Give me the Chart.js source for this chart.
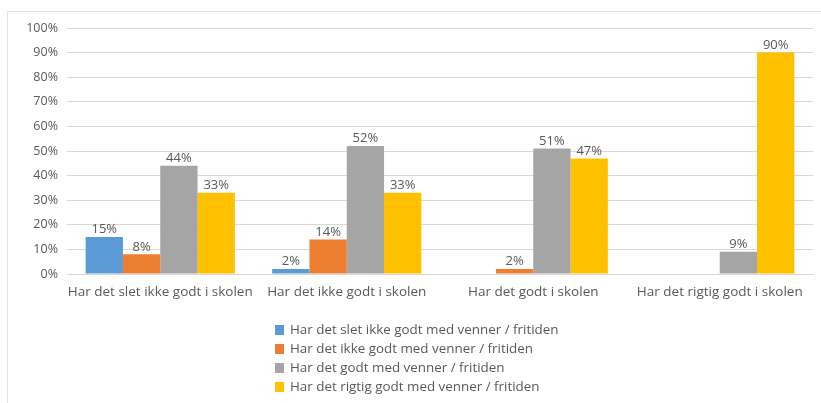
<!DOCTYPE html>
<html>
<head>
<meta charset="utf-8">
<script src="https://cdn.jsdelivr.net/npm/chart.js@4.4.0/dist/chart.umd.min.js"></script>
<style>
  html, body { margin: 0; padding: 0; background: #fff; }
  #wrap { position: relative; width: 821px; height: 403px; overflow: hidden; }
  #frame { position: absolute; left: 7px; top: 11px; width: 830px; height: 400px;
           border-left: 1px solid #e3e3e3; border-top: 1px solid #e3e3e3; }
  canvas { position: absolute; left: 0; top: 0; }
  #legend { position: absolute; left: 275px; top: 320px; font-family: "Open Sans", Lato, sans-serif;
            font-size: 13.4px; color: #595959; }
  .item { height: 19px; line-height: 19px; white-space: nowrap; }
  .box { display: inline-block; width: 9px; height: 10px; margin-right: 6px; vertical-align: -1px; }
</style>
</head>
<body>
<div id="wrap">
  <div id="frame"></div>
  <canvas id="c" width="821" height="403"></canvas>
  <div id="legend"></div>
</div>
<script>
const categories = [
  "Har det slet ikke godt i skolen",
  "Har det ikke godt i skolen",
  "Har det godt i skolen",
  "Har det rigtig godt i skolen"
];
const seriesNames = [
  "Har det slet ikke godt med venner / fritiden",
  "Har det ikke godt med venner / fritiden",
  "Har det godt med venner / fritiden",
  "Har det rigtig godt med venner / fritiden"
];
const sletIkkeGodt = [15, 2, 0, 0];
const ikkeGodt = [8, 14, 2, 0];
const godt = [44, 52, 51, 9];
const rigtigGodt = [33, 33, 47, 90];
const colors = ["#5B9BD5", "#ED7D31", "#A5A5A5", "#FFC000"];
const seriesValues = [sletIkkeGodt, ikkeGodt, godt, rigtigGodt];

const FONT = '"Open Sans", Lato, sans-serif';
const TXT = '#595959';

const valueLabels = {
  id: 'valueLabels',
  afterDatasetsDraw(chart) {
    const ctx = chart.ctx;
    ctx.save();
    ctx.font = '13px ' + FONT;
    ctx.fillStyle = TXT;
    ctx.textAlign = 'center';
    ctx.textBaseline = 'bottom';
    chart.data.datasets.forEach((ds, i) => {
      const meta = chart.getDatasetMeta(i);
      meta.data.forEach((bar, j) => {
        const v = ds.data[j];
        if (!v) return;
        ctx.fillText(v + '%', bar.x, bar.y - 1);
      });
    });
    ctx.restore();
  }
};

const chart = new Chart(document.getElementById('c'), {
  type: 'bar',
  data: {
    labels: categories,
    datasets: seriesValues.map((vals, i) => ({
      label: seriesNames[i],
      data: vals,
      backgroundColor: colors[i],
      borderWidth: 0,
      categoryPercentage: 0.8,
      barPercentage: 1.0
    }))
  },
  options: {
    responsive: false,
    animation: false,
    layout: { padding: { left: 0, right: 8, top: 28, bottom: 0 } },
    plugins: { legend: { display: false }, tooltip: { enabled: false } },
    scales: {
      x: {
        grid: { display: false, drawTicks: false },
        border: { display: true, color: '#d9d9d9', width: 1 },
        ticks: { color: TXT, font: { family: FONT, size: 13.5 }, padding: 10, maxRotation: 0, autoSkip: false },
        afterFit(scale) { scale.height = 129; }
      },
      y: {
        min: 0, max: 100,
        grid: { color: '#d9d9d9', drawTicks: false },
        border: { display: false },
        ticks: { stepSize: 10, color: TXT, font: { family: FONT, size: 12.5 }, padding: 9,
                 callback: v => v + '%' },
        afterFit(scale) { scale.width = 67; }
      }
    }
  },
  plugins: [valueLabels]
});

const legend = document.getElementById('legend');
seriesNames.forEach((name, i) => {
  const row = document.createElement('div');
  row.className = 'item';
  const box = document.createElement('span');
  box.className = 'box';
  box.style.background = colors[i];
  row.appendChild(box);
  row.appendChild(document.createTextNode(name));
  legend.appendChild(row);
});
</script>
</body>
</html>
